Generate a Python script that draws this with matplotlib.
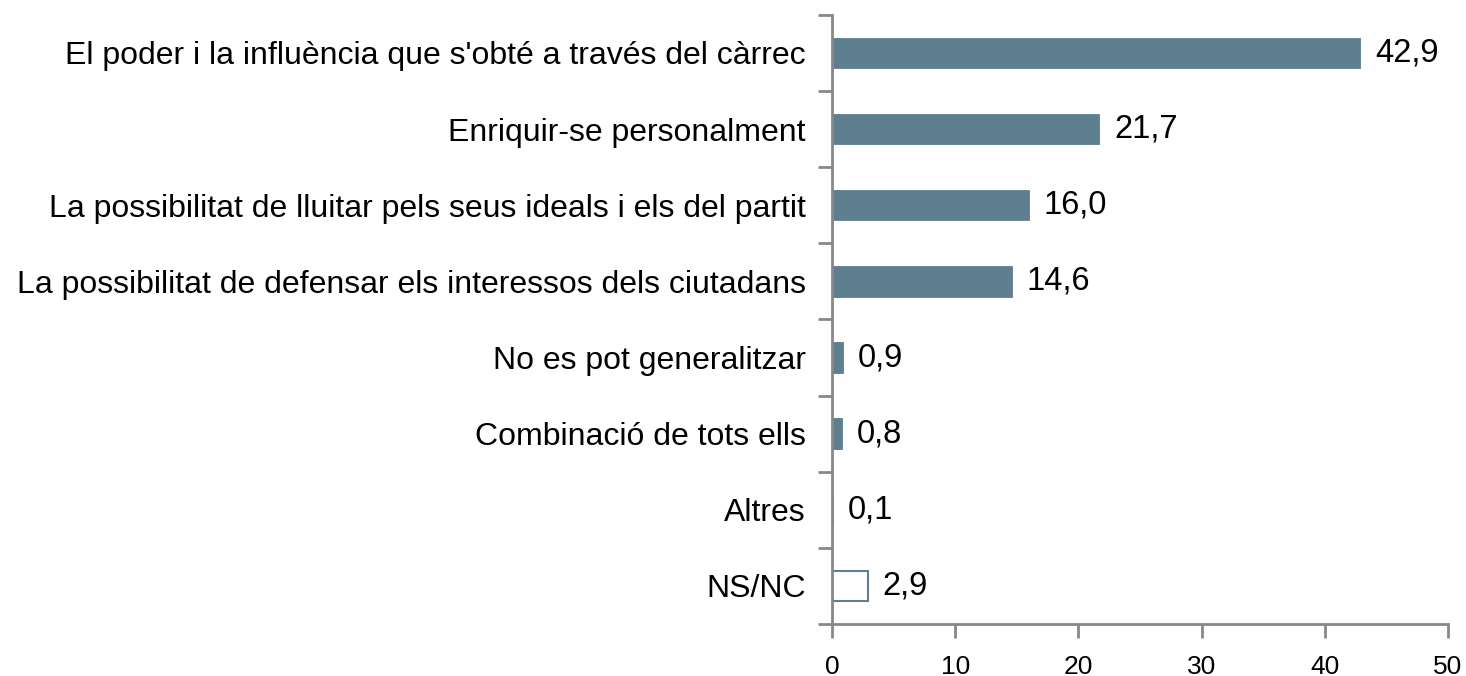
import matplotlib
matplotlib.use("Agg")
import matplotlib.pyplot as plt

categories = [
    "El poder i la influència que s'obté a través del càrrec",
    "Enriquir-se personalment",
    "La possibilitat de lluitar pels seus ideals i els del partit",
    "La possibilitat de defensar els interessos dels ciutadans",
    "No es pot generalitzar",
    "Combinació de tots ells",
    "Altres",
    "NS/NC",
]
values = [42.9, 21.7, 16.0, 14.6, 0.9, 0.8, 0.1, 2.9]
value_labels = ["42,9", "21,7", "16,0", "14,6", "0,9", "0,8", "0,1", "2,9"]
xticks = [0, 10, 20, 30, 40, 50]

plt.rcParams['font.family'] = ['Liberation Sans', 'DejaVu Sans']

bar_color = "#5d7f90"
axis_color = "#888888"

fig = plt.figure(figsize=(14.66, 6.76), dpi=100)
ax = fig.add_axes([0.5675, 0.0769, 0.4202, 0.9011])

n = len(categories)
ypos = list(range(n))
for i, (v, lab) in enumerate(zip(values, value_labels)):
    if categories[i] == "NS/NC":
        ax.barh(i, v, height=0.4, color="white", edgecolor=bar_color, linewidth=1.5)
    else:
        ax.barh(i, v, height=0.4, color=bar_color, edgecolor=bar_color, linewidth=0.6)
    ax.text(v + 1.2, i, lab, va="center", ha="left", fontsize=23.5, color="black")

ax.set_ylim(n - 0.5, -0.5)
ax.set_xlim(0, 50)
ax.set_xticks(xticks)
ax.set_xticklabels([str(x) for x in xticks], fontsize=19)

# y ticks at category boundaries, labels at centers
ax.set_yticks([i - 0.5 for i in range(n + 1)])
ax.set_yticklabels([])
ax.set_yticks(ypos, minor=True)
ax.set_yticklabels(categories, minor=True, fontsize=23)
ax.tick_params(axis="y", which="minor", length=0, pad=19)
ax.tick_params(axis="y", which="major", length=10, width=2, color=axis_color, direction="out")
ax.tick_params(axis="x", length=10, width=2, color=axis_color, direction="out", pad=12)

for s in ["top", "right"]:
    ax.spines[s].set_visible(False)
for s in ["left", "bottom"]:
    ax.spines[s].set_color(axis_color)
    ax.spines[s].set_linewidth(2)

fig.savefig("out.png", dpi=100)
